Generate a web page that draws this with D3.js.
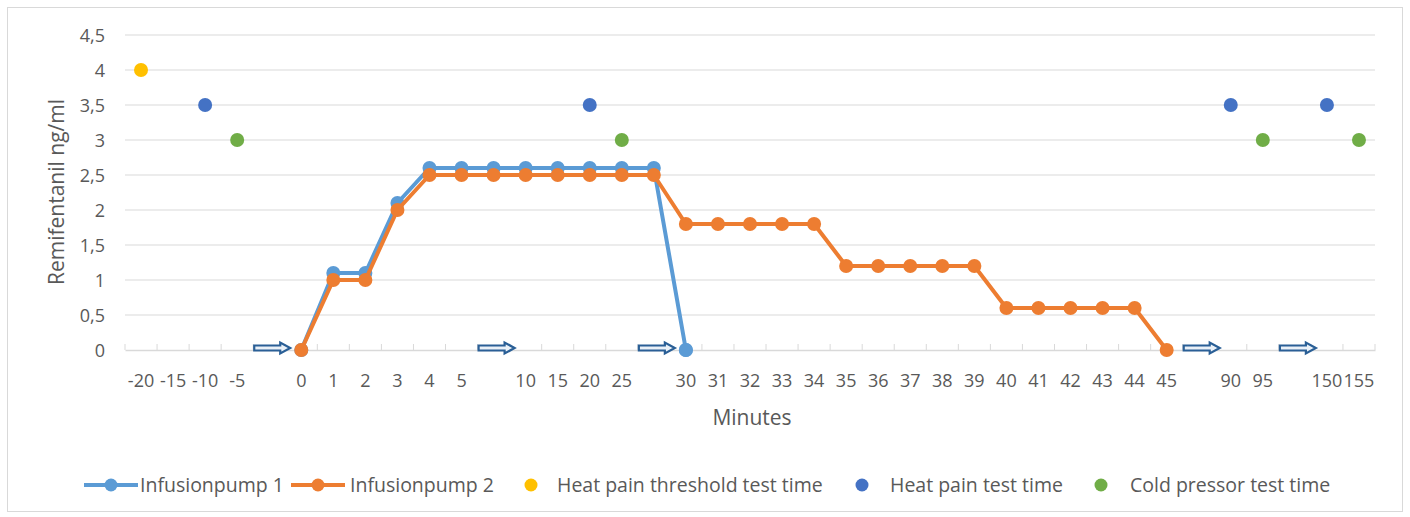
<!DOCTYPE html>
<html><head><meta charset="utf-8">
<script src="https://cdn.jsdelivr.net/npm/d3@7"></script>
<style>body{margin:0;background:#fff}svg{display:block}text{font-family:"Open Sans","Noto Sans",sans-serif;fill:#595959}</style>
</head><body><svg id="c" width="1410" height="517"></svg>
<script>
const categories = ["-20","-15","-10","-5","","0","1","2","3","4","5","","10","15","20","25","","30","31","32","33","34","35","36","37","38","39","40","41","42","43","44","45","","90","95","","150","155"];
const pump1 = [null,null,null,null,null,0,1.1,1.1,2.1,2.6,2.6,2.6,2.6,2.6,2.6,2.6,2.6,0,null,null,null,null,null,null,null,null,null,null,null,null,null,null,null,null,null,null,null,null,null];
const pump2 = [null,null,null,null,null,0,1,1,2,2.5,2.5,2.5,2.5,2.5,2.5,2.5,2.5,1.8,1.8,1.8,1.8,1.8,1.2,1.2,1.2,1.2,1.2,0.6,0.6,0.6,0.6,0.6,0,null,null,null,null,null,null];
const heatThreshold = [[0,4]];
const heatPain = [[2,3.5],[14,3.5],[34,3.5],[37,3.5]];
const coldPressor = [[3,3],[15,3],[35,3],[38,3]];
const arrowSlots = [4,11,16,33,36];
const yTicks = [0,0.5,1,1.5,2,2.5,3,3.5,4,4.5];
const seriesNames = ["Infusionpump 1","Infusionpump 2","Heat pain threshold test time","Heat pain test time","Cold pressor test time"];
const colors = ["#5B9BD5","#ED7D31","#FFC000","#4472C4","#70AD47"];

const svg = d3.select("#c");
svg.append("rect").attr("x",7.5).attr("y",7.5).attr("width",1395).attr("height",504).attr("fill","#fff").attr("stroke","#D9D9D9");

const idx = categories.map((d,i)=>i);
const x = d3.scaleBand().domain(idx).range([125,1375]).padding(0);
const cx = i => x(i)+x.bandwidth()/2;
const y = d3.scaleLinear().domain([0,4.5]).range([350,35]);
const fmt = v => String(v).replace(".",",");

// gridlines
svg.append("g").selectAll("line").data(yTicks.filter(v=>v>0)).join("line")
  .attr("x1",125).attr("x2",1375).attr("y1",d=>y(d)).attr("y2",d=>y(d))
  .attr("stroke","#D9D9D9").attr("stroke-width",1.2);

// y axis labels
const ya = svg.append("g").attr("transform","translate(125,0)")
  .call(d3.axisLeft(y).tickValues(yTicks).tickFormat(fmt).tickSize(0).tickPadding(20));
ya.select(".domain").remove();
ya.selectAll("text").style("font-size","18px").attr("fill","#595959").attr("dy","0.35em");

// x axis
const xa = svg.append("g").attr("transform","translate(0,350)")
  .call(d3.axisBottom(x).tickFormat(i=>categories[i]).tickSize(0).tickPadding(24));
xa.select(".domain").attr("stroke","#D9D9D9").attr("stroke-width",1.5);
xa.selectAll("text").style("font-size","18px").attr("fill","#595959");
// boundary ticks (pointing up)
svg.append("g").selectAll("line").data(d3.range(categories.length+1)).join("line")
  .attr("x1",i=>125+i*x.bandwidth()).attr("x2",i=>125+i*x.bandwidth())
  .attr("y1",344).attr("y2",350).attr("stroke","#D9D9D9").attr("stroke-width",1);

// axis titles
svg.append("text").attr("x",752).attr("y",418).attr("dy","0.35em").attr("text-anchor","middle").style("font-size","21px").text("Minutes");
svg.append("text").attr("transform","translate(57,192) rotate(-90)").attr("dy","0.35em").attr("text-anchor","middle").style("font-size","21px").text("Remifentanil ng/ml");

// arrows
const arrowPath = "M-18,-2.5 L8,-2.5 L8,-5.5 L18,0 L8,5.5 L8,2.5 L-18,2.5 Z";
svg.append("g").selectAll("path").data(arrowSlots).join("path")
  .attr("transform",i=>`translate(${cx(i)+3},348)`).attr("d",arrowPath)
  .attr("fill","#EAF1F8").attr("stroke","#2A5F96").attr("stroke-width",2.2);

// lines
function drawLine(vals,color){
  const pts = vals.map((v,i)=>[i,v]).filter(d=>d[1]!==null);
  svg.append("path").datum(pts).attr("fill","none").attr("stroke",color).attr("stroke-width",4)
    .attr("stroke-linejoin","round")
    .attr("d",d3.line().x(d=>cx(d[0])).y(d=>y(d[1])));
  svg.append("g").selectAll("circle").data(pts).join("circle")
    .attr("cx",d=>cx(d[0])).attr("cy",d=>y(d[1])).attr("r",7).attr("fill",color);
}
drawLine(pump1,colors[0]);
drawLine(pump2,colors[1]);
// pump1 point at 30 min drawn on top
svg.append("circle").attr("cx",cx(17)).attr("cy",y(pump1[17])).attr("r",7).attr("fill",colors[0]);

[[heatThreshold,colors[2]],[heatPain,colors[3]],[coldPressor,colors[4]]].forEach(([pts,c])=>{
  svg.append("g").selectAll("circle").data(pts).join("circle")
    .attr("cx",d=>cx(d[0])).attr("cy",d=>y(d[1])).attr("r",7).attr("fill",c);
});

// legend
const lg = svg.append("g").attr("transform","translate(0,485)");
const legendX = [[84,"line"],[291,"line"],[531,"dot"],[862,"dot"],[1101,"dot"]];
const textX = [140,350,557,890,1130];
seriesNames.forEach((n,k)=>{
  const [lx,type] = legendX[k];
  if(type==="line"){
    lg.append("line").attr("x1",lx).attr("x2",lx+54).attr("y1",0).attr("y2",0).attr("stroke",colors[k]).attr("stroke-width",4);
    lg.append("circle").attr("cx",lx+27).attr("cy",0).attr("r",6.5).attr("fill",colors[k]);
  } else {
    lg.append("circle").attr("cx",lx).attr("cy",0).attr("r",6.5).attr("fill",colors[k]);
  }
  lg.append("text").attr("x",textX[k]).attr("y",0).attr("dy","0.35em").style("font-size","19.5px").text(n);
});
</script></body></html>
